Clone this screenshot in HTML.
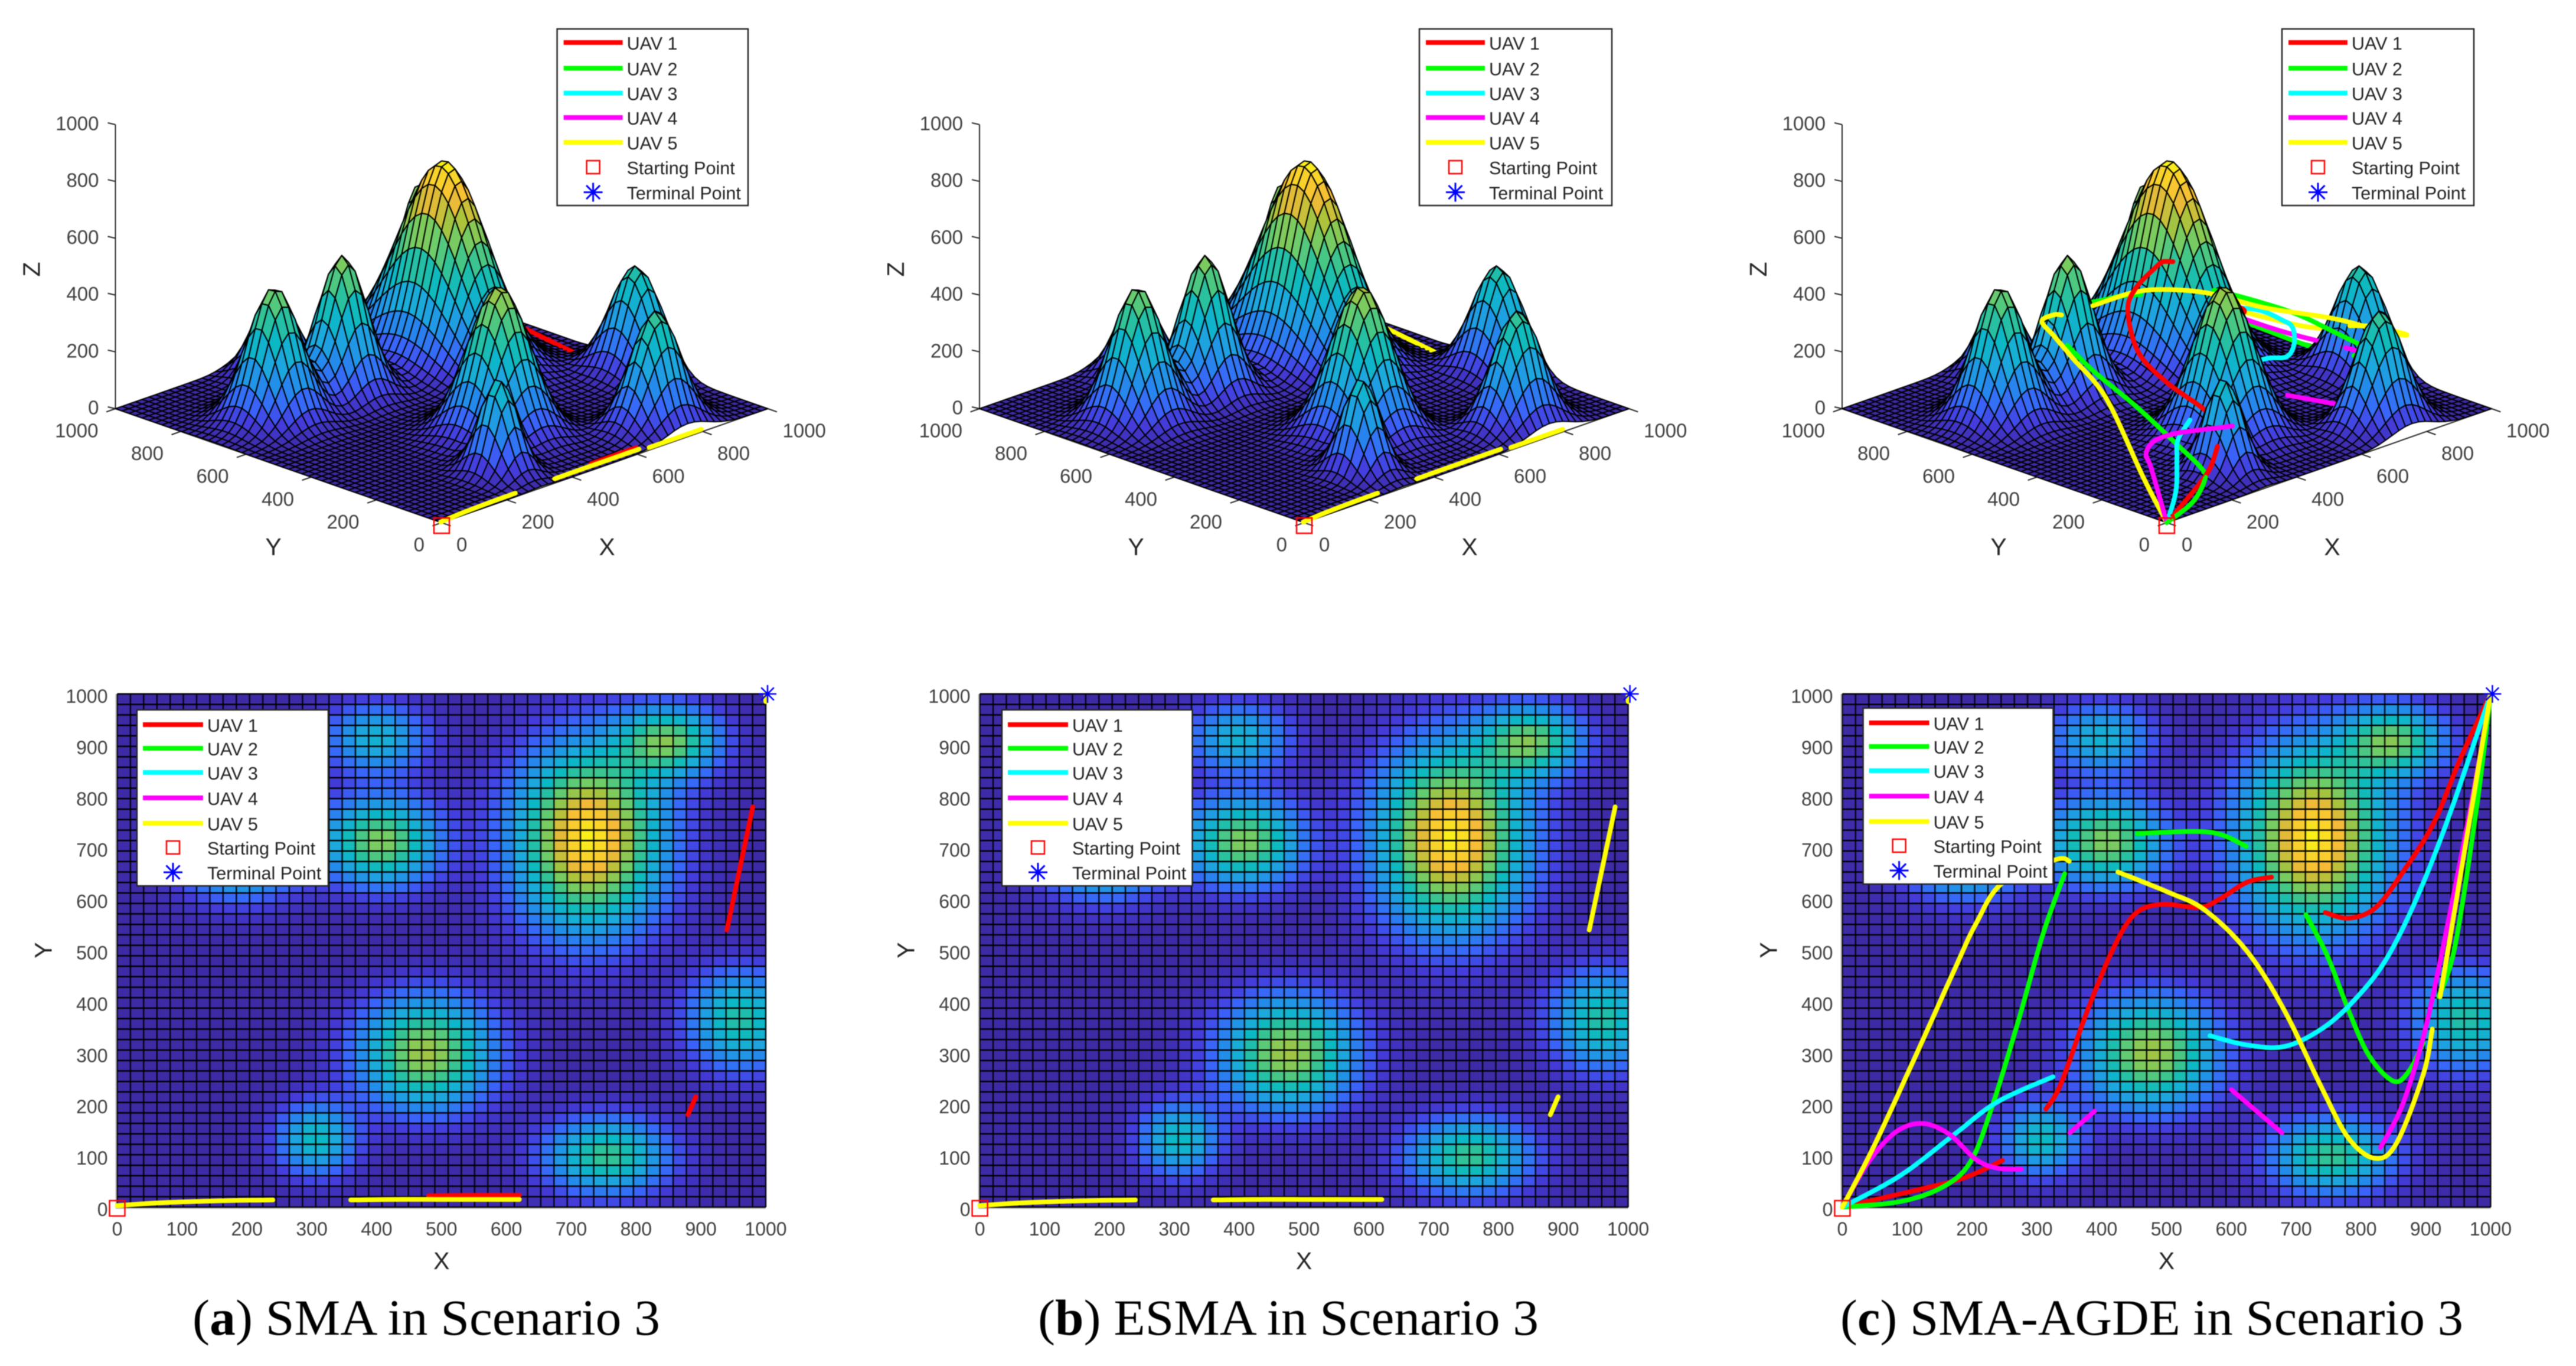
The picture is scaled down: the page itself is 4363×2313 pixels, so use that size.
<!DOCTYPE html>
<html lang="en">
<head>
<meta charset="utf-8">
<title>UAV path planning in Scenario 3</title>
<style>
html,body{margin:0;padding:0;background:#fff;width:4363px;height:2313px;overflow:hidden}
svg{display:block;filter:blur(0.8px)}
text{font-family:"Liberation Sans",sans-serif}
.cap{font-family:"Liberation Serif",serif;fill:#000}
</style>
</head>
<body>
<svg id="fig" xmlns="http://www.w3.org/2000/svg" width="4363" height="2313" viewBox="0 0 4363 2313">
<rect width="4363" height="2313" fill="#fff"/>
</svg>
<script>
// ---- terrain peaks (the ninth sits under the 2D legend) ----
const peakX  = [728, 476, 408, 400, 851, 960, 755, 307, 190];
const peakY  = [720, 300, 712, 913, 908, 365, 100, 132, 703];
const peakH  = [692, 520, 490, 285, 450, 372, 401, 330, 470];
const peakSX = [105,  95,  80,  72,  72,  72,  88,  55,  85];
const peakSY = [165, 100,  78,  62,  62,  88,  68,  65,  85];

// ---- tick labels ----
const ticks2D = [0,100,200,300,400,500,600,700,800,900,1000];
const ticksGround = [0,200,400,600,800,1000];
const ticksZ = [0,200,400,600,800,1000];

// ---- legend ----
const uavNames = ["UAV 1","UAV 2","UAV 3","UAV 4","UAV 5"];
const uavColors = ["#ff0000","#00ff00","#00ffff","#ff00ff","#ffff00"];

// ---- panel (a) SMA, null separates visible sections ----
const aUav1X = [480,550,620,null,940,950,960,970,980,null,880,892];
const aUav1Y = [22,23,23,null,540,600,660,720,780,null,180,215];
const aUav1Z = [6,6,6,null,8,8,8,8,8,null,12,12];
const aUav5X = [0,60,120,180,240,null,360,430,500,560,620,null,1000,1000];
const aUav5Y = [3,8,11,13,14,null,14,15,15,15,15,null,985,1000];
const aUav5Z = [1,2,2,2,2,null,4,4,4,4,4,null,1,1];
const aEdgeX = [640,700,800];
const aEdgeY = [4,4,4];
const aEdgeZ = [6,6,6];

// ---- panel (b) ESMA ----
const bUav5X = [0,60,120,180,240,null,360,430,500,560,620,null,940,950,960,970,980,null,880,892,null,1000,1000];
const bUav5Y = [3,8,11,13,14,null,14,15,15,15,15,null,540,600,660,720,780,null,180,215,null,985,1000];
const bUav5Z = [1,2,2,2,2,null,4,4,4,4,4,null,8,8,8,8,8,null,12,12,null,1,1];
const bEdgeX = [640,700,800];
const bEdgeY = [4,4,4];
const bEdgeZ = [6,6,6];

// ---- panel (c) SMA-AGDE ----
const cUav1X = [0,124,190,247,null,314,337,378,419,452,493,551,583,624,662,null,745,781,822,863,912,953,1000];
const cUav1Y = [0,36,58,91,null,191,240,383,507,572,590,584,601,633,643,null,574,563,583,650,748,873,1000];
const cUav1Z = [0,55,90,133,null,187,183,193,229,333,389,445,439,415,395,null,230,220,180,120,80,40,10];

const cUav2X = [0,90,156,198,231,272,310,343,null,455,543,584,623,null,715,748,781,813,851,875,896,null,920,945,978,1000];
const cUav2Y = [0,11,40,89,196,365,534,650,null,728,732,726,703,null,570,490,383,294,245,267,320,null,410,508,775,1000];
const cUav2Z = [0,31,70,73,100,152,193,226,null,293,274,272,271,null,303,289,268,225,179,143,100,null,79,39,20,10];

const cUav3X = [0,90,173,239,325,null,567,624,682,739,788,838,887,937,1000];
const cUav3Y = [0,62,142,205,254,null,334,316,313,347,401,481,605,766,1000];
const cUav3Z = [0,50,102,112,129,null,190,201,185,193,210,183,150,80,10];

const cUav4X = [0,41,83,124,165,206,239,276,null,351,389,null,600,678,null,830,863,892,912,941,975,1000];
const cUav4Y = [0,89,147,163,142,93,76,74,null,145,187,null,229,145,null,116,196,312,418,597,819,1000];
const cUav4Z = [0,139,150,172,190,208,208,200,null,150,130,null,116,85,null,150,140,123,98,60,30,10];

const cUav5X = [0,50,116,173,206,247,329,350,null,425,502,559,624,682,740,781,822,855,896,910,null,922,941,1000];
const cUav5Y = [0,122,303,463,552,632,677,674,null,653,614,579,499,383,231,134,95,125,258,347,null,410,552,1000];
const cUav5Z = [0,89,270,324,351,356,328,320,null,331,360,364,358,330,330,312,293,272,227,189,null,150,100,10];

// ---- colormap stops (fraction of max, r, g, b) ----
const cmapT = [0,.08,.15,.25,.35,.45,.55,.65,.75,.85,.95,1];
const cmapR = [61,68,58,35,28,10,50,110,170,245,250,248];
const cmapG = [42,60,100,140,170,185,195,205,195,185,215,250];
const cmapB = [165,220,250,235,220,195,150,105,60,55,40,20];
const zMax = 692;

// ---- panel geometry ----
const panels = [
 {id:'a', left:198.5, w:1098.5, cx:748, k:.5525, leg3:[943.6,1267], leg2:[232,556],
  caption:'SMA in Scenario 3', letter:'a', capX:326, capW:792,
  series:[[aUav1X,aUav1Y,aUav1Z,0],[aUav5X,aUav5Y,aUav5Z,4]], edge:[aEdgeX,aEdgeY,aEdgeZ]},
 {id:'b', left:1659.6, w:1098, cx:2209, k:.55, leg3:[2404,2730], leg2:[1697,2019.5],
  caption:'ESMA in Scenario 3', letter:'b', capX:1758, capW:848,
  series:[[bUav5X,bUav5Y,bUav5Z,4]], edge:[bEdgeX,bEdgeY,bEdgeZ]},
 {id:'c', left:3120.4, w:1098, cx:3670, k:.55, leg3:[3865,4190], leg2:[3155.6,3477.5],
  caption:'SMA-AGDE in Scenario 3', letter:'c', capX:3117, capW:1055,
  series:[[cUav1X,cUav1Y,cUav1Z,0],[cUav2X,cUav2Y,cUav2Z,1],[cUav3X,cUav3Y,cUav3Z,2],[cUav4X,cUav4Y,cUav4Z,3],[cUav5X,cUav5Y,cUav5Z,4]], edge:null}
];

const NS = 'http://www.w3.org/2000/svg';
const GRID = 49;
const TOP2D = 1175, BOT2D = 2044;
const BASE3D = 885, KS = .193, KZ = .481;

function terrain(x,y){
  let z = 0;
  for(let i=0;i<peakX.length;i++){
    const dx=(x-peakX[i])/peakSX[i], dy=(y-peakY[i])/peakSY[i];
    z += peakH[i]*Math.exp(-dx*dx-dy*dy);
  }
  return z;
}
function colorOf(z){
  const t = Math.max(0,Math.min(1,z/zMax));
  let i = 0;
  while(i<cmapT.length-2 && t>cmapT[i+1]) i++;
  const f=(t-cmapT[i])/(cmapT[i+1]-cmapT[i]);
  const m=a=>Math.round(a[i]+(a[i+1]-a[i])*f);
  return 'rgb('+m(cmapR)+','+m(cmapG)+','+m(cmapB)+')';
}
function mk(tag,attrs,parent){
  const e=document.createElementNS(NS,tag);
  for(const k in attrs) e.setAttribute(k,attrs[k]);
  if(parent) parent.appendChild(e);
  return e;
}
// split on null into sections of [x,y,z] and sample with Catmull-Rom
function sections(X,Y,Z){
  const out=[]; let cur=[];
  for(let i=0;i<X.length;i++){
    if(X[i]===null){ if(cur.length) out.push(cur); cur=[]; }
    else cur.push([X[i],Y[i],Z[i]]);
  }
  if(cur.length) out.push(cur);
  return out;
}
function sample(sec){
  const res=[]; const n=sec.length;
  if(n<3) {
    for(let j=0;j<=8;j++){ const t=j/8;
      res.push([0,1,2].map(c=>sec[0][c]+(sec[n-1][c]-sec[0][c])*t)); }
    return res;
  }
  for(let i=0;i<n-1;i++){
    const p0=sec[Math.max(0,i-1)],p1=sec[i],p2=sec[i+1],p3=sec[Math.min(n-1,i+2)];
    for(let j=0;j<8;j++){
      const t=j/8,t2=t*t,t3=t2*t;
      res.push([0,1,2].map(c=>.5*(2*p1[c]+(p2[c]-p0[c])*t+(2*p0[c]-5*p1[c]+4*p2[c]-p3[c])*t2+(3*p1[c]-p0[c]-3*p2[c]+p3[c])*t3)));
    }
  }
  res.push(sec[n-1]);
  return res;
}
function asterisk(cx,cy,r,parent,w){
  const g=mk('g',{stroke:'#0000ff','stroke-width':w,fill:'none'},parent);
  
  
  const d=r*.72;
  mk('line',{x1:cx-r,y1:cy,x2:cx+r,y2:cy},g);
  mk('line',{x1:cx,y1:cy-r,x2:cx,y2:cy+r},g);
  mk('line',{x1:cx-d,y1:cy-d,x2:cx+d,y2:cy+d},g);
  mk('line',{x1:cx-d,y1:cy+d,x2:cx+d,y2:cy-d},g);
}
function label(txt,x,y,size,anchor,fill,parent,rot){
  const attrs={x:x,y:y,'font-size':size,'text-anchor':anchor,fill:fill,'dominant-baseline':'central'};
  if(rot) attrs.transform='rotate('+rot+' '+x+' '+y+')';
  const t=mk('text',attrs,parent);
  t.textContent=txt;
  return t;
}
function legend(x0,x1,y0,y1,rows,parent,lx0,lx1,tx,mx,panelId){
  const g=mk('g',{},parent);
  
  
  mk('rect',{x:x0,y:y0,width:x1-x0,height:y1-y0,fill:'#fff',stroke:'#262626','stroke-width':2.5},g);
  rows.forEach((ry,i)=>{
    if(i<5){
      const l=mk('line',{x1:lx0,x2:lx1,y1:ry,y2:ry,stroke:uavColors[i],'stroke-width':8},g);
      
      
      const t=label(uavNames[i],tx,ry+2,30.5,'start','#222',g);
      
      
    } else if(i===5){
      const r=mk('rect',{x:mx-11,y:ry-11,width:22,height:22,fill:'none',stroke:'#ff0000','stroke-width':2.5},g);
      
      
      const t=label('Starting Point',tx,ry+2,30.5,'start','#222',g);
      
      
    } else {
      asterisk(mx,ry,16,g,3);
      const t=label('Terminal Point',tx,ry+2,30.5,'start','#222',g);
      
      
    }
  });
}

const fig=document.getElementById('fig');

function draw3D(p){
  const g=mk('g',{},fig);
  
  
  const sx=(x,y)=>p.cx+(x-y)*p.k;
  const sy=(x,y,z)=>BASE3D-(x+y)*KS-z*KZ;
  const zero=sx(0,1000);

  // Z axis
  const zAxis=mk('line',{x1:zero,x2:zero,y1:sy(0,1000,1000),y2:sy(0,1000,0),stroke:'#262626','stroke-width':2},g);
  
  
  ticksZ.forEach(v=>{
    const y=sy(0,1000,v);
    const tk=mk('line',{x1:zero-13,x2:zero,y1:y-3,y2:y,stroke:'#262626','stroke-width':2},g);
    
    
    const t=label(v,zero-28,y-2,33,'end','#404040',g);
    
    
  });
  const zt=label('Z',zero-142,456,41,'middle','#262626',g,-90);
  
  

  // ground axes & ticks
  [[0,0,1000,0],[0,0,0,1000]].forEach(a=>{
    const ax=mk('line',{x1:sx(a[0],a[1]),y1:sy(a[0],a[1],0),x2:sx(a[2],a[3]),y2:sy(a[2],a[3],0),stroke:'#262626','stroke-width':2},g);
    
    
  });
  ticksGround.forEach(v=>{
    const tx=mk('line',{x1:sx(v,0),y1:sy(v,0,0),x2:sx(v,-28),y2:sy(v,-28,0),stroke:'#262626','stroke-width':2},g);
    
    
    const ty=mk('line',{x1:sx(0,v),y1:sy(0,v,0),x2:sx(-28,v),y2:sy(-28,v,0),stroke:'#262626','stroke-width':2},g);
    
    
    const lx=label(v,sx(v,0)+25,sy(v,0,0)+37,33,'start','#404040',g);
    
    
    const ly=label(v,sx(0,v)-29,sy(0,v,0)+37,33,'end','#404040',g);
    
    
  });
  const xt=label('X',p.cx+280,926,41,'middle','#262626',g);
  
  
  const yt=label('Y',p.cx-285,926,41,'middle','#262626',g);
  
  

  // painter's queue: surface cells and path pieces sorted far-to-near
  const items=[];
  const step=1000/GRID;
  for(let i=0;i<GRID;i++) for(let j=0;j<GRID;j++){
    items.push({d:(i+.5)*step+(j+.5)*step,k:'cell',i:i,j:j});
  }
  const addPath=(X,Y,Z,color)=>{
    sections(X,Y,Z).forEach(sec=>{
      const pts=sample(sec);
      for(let n=0;n<pts.length-1;n++){
        items.push({d:(pts[n][0]+pts[n][1]+pts[n+1][0]+pts[n+1][1])/2-25,k:'seg',a:pts[n],b:pts[n+1],c:color});
      }
    });
  };
  p.series.forEach(s=>addPath(s[0],s[1],s[2],uavColors[s[3]]));
  if(p.edge) addPath(p.edge[0],p.edge[1],p.edge[2],uavColors[4]);
  items.sort((a,b)=>b.d-a.d);
  const surf=mk('g',{stroke:'#000','stroke-width':2,'stroke-linejoin':'round'},g);
  
  
  items.forEach(it=>{
    if(it.k==='cell'){
      const x0=it.i*step,y0=it.j*step,x1=x0+step,y1=y0+step;
      const c=[[x0,y0],[x1,y0],[x1,y1],[x0,y1]].map(q=>[q[0],q[1],terrain(q[0],q[1])]);
      const avg=(c[0][2]+c[1][2]+c[2][2]+c[3][2])/4;
      const poly=mk('polygon',{points:c.map(q=>sx(q[0],q[1]).toFixed(1)+','+sy(q[0],q[1],q[2]).toFixed(1)).join(' '),fill:colorOf(avg)},surf);
      
      
    } else {
      const ln=mk('line',{x1:sx(it.a[0],it.a[1]).toFixed(1),y1:sy(it.a[0],it.a[1],it.a[2]).toFixed(1),x2:sx(it.b[0],it.b[1]).toFixed(1),y2:sy(it.b[0],it.b[1],it.b[2]).toFixed(1),stroke:it.c,'stroke-width':8,'stroke-linecap':'round'},surf);
      
      
    }
  });

  // start marker
  const st=mk('rect',{x:p.cx-13,y:877,width:26,height:26,fill:'none',stroke:'#ff0000','stroke-width':2.5},g);
  
  

  legend(p.leg3[0],p.leg3[1],49,348,[72,115.5,157.6,199,241,283,325.5],g,p.leg3[0]+11,p.leg3[0]+111,p.leg3[0]+118,p.leg3[0]+61,p.id+'-3d');
}

function draw2D(p){
  const g=mk('g',{},fig);
  
  
  const px=x=>p.left+x/1000*p.w;
  const py=y=>BOT2D-y/1000*(BOT2D-TOP2D);
  const step=1000/GRID;

  const cells=mk('g',{},g);
  
  
  for(let i=0;i<GRID;i++) for(let j=0;j<GRID;j++){
    const x0=i*step,y0=j*step;
    const v=(terrain(x0,y0)+terrain(x0+step,y0)+terrain(x0,y0+step)+terrain(x0+step,y0+step))/4;
    const r=mk('rect',{x:px(x0).toFixed(1),y:py(y0+step).toFixed(1),width:(p.w/GRID+.5).toFixed(1),height:((BOT2D-TOP2D)/GRID+.5).toFixed(1),fill:colorOf(v)},cells);
    
    
  }
  for(let i=0;i<=GRID;i++){
    const v=mk('line',{x1:px(i*step).toFixed(1),x2:px(i*step).toFixed(1),y1:TOP2D,y2:BOT2D,stroke:'#000','stroke-width':2.6,'stroke-opacity':.85},g);
    
    
    const h=mk('line',{x1:p.left,x2:p.left+p.w,y1:py(i*step).toFixed(1),y2:py(i*step).toFixed(1),stroke:'#000','stroke-width':2.5,'stroke-opacity':1},g);
    
    
  }
  const ax1=mk('line',{x1:p.left-2,x2:p.left-2,y1:TOP2D,y2:BOT2D+2,stroke:'#bbb','stroke-width':2},g);
  
  
  const ax2=mk('line',{x1:p.left-2,x2:p.left+p.w,y1:BOT2D+2,y2:BOT2D+2,stroke:'#bbb','stroke-width':2},g);
  
  

  ticks2D.forEach(v=>{
    const tx=label(v,px(v),2081,32,'middle','#404040',g);
    
    
    const ty=label(v,p.left-16,py(v)+4,32,'end','#404040',g);
    
    
  });
  const xt=label('X',px(500),2135,41,'middle','#262626',g);
  
  
  const yt=label('Y',p.left-125,1609,41,'middle','#262626',g,-90);
  
  

  // paths
  p.series.forEach(s=>{
    sections(s[0],s[1],s[2]).forEach(sec=>{
      const pts=sample(sec);
      const pl=mk('polyline',{points:pts.map(q=>px(q[0]).toFixed(1)+','+py(q[1]).toFixed(1)).join(' '),fill:'none',stroke:uavColors[s[3]],'stroke-width':8,'stroke-linecap':'round','stroke-linejoin':'round'},g);
      
      
    });
  });

  // markers
  const st=mk('rect',{x:p.left-13,y:BOT2D-11,width:26,height:26,fill:'none',stroke:'#ff0000','stroke-width':2.5},g);
  
  
  asterisk(px(1000)+3,TOP2D,15,g,2.5);

  const dy=p.id==='c'?-3:0;
  legend(p.leg2[0],p.leg2[1],1202+dy,1500+dy,[1227,1267,1308,1351,1394,1435,1477].map(v=>v+dy),g,p.leg2[0]+10,p.leg2[0]+112,p.leg2[0]+119,p.leg2[0]+61,p.id+'-2d');

  // caption
  const c=mk('text',{x:p.capX,y:2260,'font-size':86,textLength:p.capW,lengthAdjust:'spacingAndGlyphs','class':'cap'},fig);
  
  
  c.appendChild(document.createTextNode('('));
  const b=mk('tspan',{'font-weight':'bold'},c);
  b.textContent=p.letter;
  c.appendChild(document.createTextNode(') '+p.caption));
}

panels.forEach(p=>{ draw3D(p); draw2D(p); });
</script>
</body>
</html>
